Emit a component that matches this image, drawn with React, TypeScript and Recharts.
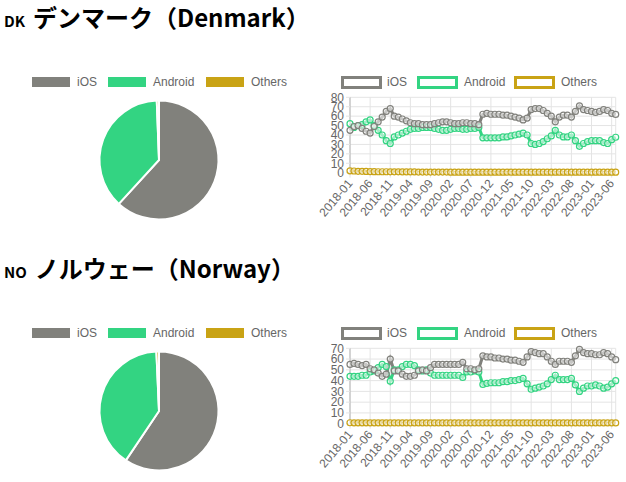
import React from "react";
import { LineChart, Line, XAxis, YAxis, CartesianGrid, PieChart, Pie, Cell } from "recharts";

const months = [
  "2018-01","2018-02","2018-03","2018-04","2018-05","2018-06","2018-07","2018-08","2018-09","2018-10","2018-11","2018-12",
  "2019-01","2019-02","2019-03","2019-04","2019-05","2019-06","2019-07","2019-08","2019-09","2019-10","2019-11","2019-12",
  "2020-01","2020-02","2020-03","2020-04","2020-05","2020-06","2020-07","2020-08","2020-09","2020-10","2020-11","2020-12",
  "2021-01","2021-02","2021-03","2021-04","2021-05","2021-06","2021-07","2021-08","2021-09","2021-10","2021-11","2021-12",
  "2022-01","2022-02","2022-03","2022-04","2022-05","2022-06","2022-07","2022-08","2022-09","2022-10","2022-11","2022-12",
  "2023-01","2023-02","2023-03","2023-04","2023-05","2023-06","2023-07",
];

const xTicks = ["2018-01","2018-06","2018-11","2019-04","2019-09","2020-02","2020-07","2020-12","2021-05","2021-10","2022-03","2022-08","2023-01","2023-06"];

const seriesNames = ["iOS", "Android", "Others"];
const seriesColors = ["#81817c", "#33d482", "#c9a315"];

// Denmark
const dkIOS = [
  45, 49, 50, 47, 44, 42, 49, 54, 59, 65, 68, 60,
  59, 57, 55, 53, 52, 52, 51, 51, 51, 52, 53, 54,
  54, 53, 52, 52, 53, 53, 52, 52, 51, 62, 63, 62,
  62, 62, 61, 61, 60, 59, 58, 56, 58, 67, 68, 68,
  66, 63, 60, 54, 59, 61, 61, 59, 65, 71, 67, 66,
  65, 64, 65, 67, 66, 63, 61.8,
];
const dkAndroid = [
  52, 48, 50, 51, 54, 56, 50, 45, 40, 34, 31, 38,
  40, 42, 44, 46, 47, 47, 48, 48, 48, 47, 46, 45,
  45, 46, 47, 47, 46, 46, 47, 47, 48, 37, 37, 37,
  37, 37, 38, 38, 39, 40, 41, 42, 40, 31, 30, 31,
  33, 36, 39, 45, 40, 38, 38, 40, 34, 28, 31, 33,
  34, 34, 34, 32, 31, 35, 37.6,
];
const dkOthers = [
  2, 1.8, 1.5, 1.5, 1.3, 1.2, 1.1, 1, 1, 1, 0.9, 0.9,
  0.9, 0.8, 0.8, 0.8, 0.8, 0.7, 0.7, 0.7, 0.7, 0.7, 0.7, 0.7,
  0.7, 0.6, 0.6, 0.6, 0.6, 0.6, 0.6, 0.6, 0.6, 0.6, 0.6, 0.6,
  0.6, 0.6, 0.6, 0.6, 0.6, 0.6, 0.6, 0.6, 0.6, 0.6, 0.6, 0.6,
  0.6, 0.6, 0.6, 0.6, 0.6, 0.6, 0.6, 0.6, 0.6, 0.6, 0.6, 0.6,
  0.6, 0.6, 0.6, 0.6, 0.6, 0.6, 0.6,
];
const dkShare = [61.8, 37.6, 0.6];
const dkYTicks = [0, 10, 20, 30, 40, 50, 60, 70, 80];

// Norway
const noIOS = [
  55, 56, 55, 54, 55, 51, 50, 47, 44, 46, 60, 49,
  49, 46, 44, 44, 45, 49, 50, 49, 52, 55, 55, 55,
  55, 55, 55, 55, 57, 51, 51, 50, 51, 63, 62, 62,
  61, 61, 60, 60, 59, 59, 58, 57, 62, 67, 66, 65,
  65, 62, 58, 55, 58, 58, 58, 57, 63, 69, 66, 65,
  65, 64, 64, 66, 65, 62, 59.4,
];
const noAndroid = [
  44, 44, 44, 45, 45, 48, 49, 52, 55, 53, 39.5, 50,
  50, 53, 55, 55, 54, 50, 49, 50, 47, 45, 45, 45,
  45, 45, 45, 45, 43, 48, 48, 49, 48, 36.5, 37.5, 38,
  38, 38, 39, 39, 40, 40, 41, 42, 37, 32, 33, 34,
  35, 37, 41, 45, 41, 41, 41, 42, 36, 30, 33, 35,
  35, 36, 35, 33, 34, 37, 39.9,
];
const noOthers = [
  0.9, 0.8, 0.8, 0.8, 0.8, 0.8, 0.8, 0.8, 0.8, 0.8, 0.7, 0.7,
  0.7, 0.7, 0.7, 0.7, 0.7, 0.7, 0.7, 0.7, 0.7, 0.7, 0.7, 0.7,
  0.7, 0.7, 0.7, 0.7, 0.7, 0.7, 0.7, 0.7, 0.7, 0.7, 0.7, 0.7,
  0.7, 0.7, 0.7, 0.7, 0.7, 0.7, 0.7, 0.7, 0.7, 0.7, 0.7, 0.7,
  0.7, 0.7, 0.7, 0.7, 0.7, 0.7, 0.7, 0.7, 0.7, 0.7, 0.7, 0.7,
  0.7, 0.7, 0.7, 0.7, 0.7, 0.7, 0.7,
];
const noShare = [59.4, 39.9, 0.7];
const noYTicks = [0, 10, 20, 30, 40, 50, 60, 70];

const FONT = "'Liberation Sans', Arial, sans-serif";
const TEXT = "#666";

function buildRows(ios: number[], android: number[], others: number[]) {
  return months.map((m, i) => ({ month: m, iOS: ios[i], Android: android[i], Others: others[i] }));
}

function XTick(props: any) {
  const { x, y, payload } = props;
  return (
    <g transform={`translate(${x},${y})`}>
      <text x={-1} y={0} dy={5} textAnchor="end" transform="rotate(-50)" fontSize={12} fill={TEXT} fontFamily={FONT}>
        {payload.value}
      </text>
    </g>
  );
}

function Section(props: {
  top: number;
  code: string;
  name: string;
  ios: number[];
  android: number[];
  others: number[];
  share: number[];
  yTicks: number[];
}) {
  const { top, code, name, ios, android, others, share, yTicks } = props;
  const rows = buildRows(ios, android, others);
  const pieRows = seriesNames.map((n, i) => ({ name: n, value: share[i] }));
  const yMax = yTicks[yTicks.length - 1];

  const pieLegend = [
    { box: 32, text: 77 },
    { box: 108, text: 153 },
    { box: 206, text: 251 },
  ];
  const lineLegend = [
    { box: 341, text: 387 },
    { box: 416.5, text: 464 },
    { box: 514, text: 561 },
  ];

  return (
    <>
      <div
        style={{
          position: "absolute",
          left: 4,
          top: top + 2,
          height: 30,
          lineHeight: "30px",
          whiteSpace: "nowrap",
          fontFamily: "'Noto Sans CJK JP', 'Noto Sans', sans-serif",
          fontWeight: 700,
          color: "#000",
        }}
      >
        <span style={{ fontSize: 15, marginRight: 8 }}>{code}</span>
        <span style={{ fontSize: 24 }}>{name}</span>
      </div>

      {seriesNames.map((n, i) => (
        <React.Fragment key={"pl" + n}>
          <div
            style={{
              position: "absolute",
              left: pieLegend[i].box,
              top: top + 77,
              width: 38,
              height: 10,
              background: seriesColors[i],
            }}
          />
          <div
            style={{
              position: "absolute",
              left: pieLegend[i].text,
              top: top + 74,
              height: 16,
              lineHeight: "16px",
              fontSize: 12,
              fontFamily: FONT,
              color: TEXT,
            }}
          >
            {n}
          </div>
        </React.Fragment>
      ))}

      {seriesNames.map((n, i) => (
        <React.Fragment key={"ll" + n}>
          <div
            style={{
              position: "absolute",
              left: lineLegend[i].box,
              top: top + 75.5,
              width: 41,
              height: 13,
              boxSizing: "border-box",
              border: `3px solid ${seriesColors[i]}`,
              background: "#fff",
            }}
          />
          <div
            style={{
              position: "absolute",
              left: lineLegend[i].text,
              top: top + 74,
              height: 16,
              lineHeight: "16px",
              fontSize: 12,
              fontFamily: FONT,
              color: TEXT,
            }}
          >
            {n}
          </div>
        </React.Fragment>
      ))}

      <div style={{ position: "absolute", left: 0, top: top, width: 320, height: 230 }}>
        <PieChart width={320} height={230} margin={{ top: 0, right: 0, bottom: 0, left: 0 }}>
          <Pie
            data={pieRows}
            dataKey="value"
            nameKey="name"
            cx={159}
            cy={160}
            outerRadius={59.5}
            startAngle={90}
            endAngle={-270}
            stroke="#fff"
            strokeWidth={2}
            isAnimationActive={false}
          >
            {pieRows.map((r, i) => (
              <Cell key={r.name} fill={seriesColors[i]} />
            ))}
          </Pie>
        </PieChart>
      </div>

      <div style={{ position: "absolute", left: 300, top: top + 70, width: 326, height: 160 }}>
        <LineChart width={326} height={160} data={rows} margin={{ top: 27.3, right: 10.3, bottom: 2, left: 20 }}>
          <CartesianGrid stroke="#e4e4e4" strokeWidth={1} />
          <XAxis
            dataKey="month"
            ticks={xTicks}
            interval={0}
            height={55.3}
            tickSize={5}
            tickMargin={2}
            axisLine={{ stroke: "#e4e4e4" }}
            tickLine={{ stroke: "#e4e4e4" }}
            tick={<XTick />}
          />
          <YAxis
            type="number"
            domain={[0, yMax]}
            ticks={yTicks}
            interval={0}
            width={30}
            tickSize={4}
            tickMargin={2}
            axisLine={{ stroke: "#b5b5b5" }}
            tickLine={{ stroke: "#e4e4e4" }}
            tick={{ fontSize: 12, fill: TEXT, fontFamily: FONT }}
          />
          {[2, 1, 0].map((i) => (
            <Line
              key={seriesNames[i]}
              type="linear"
              dataKey={seriesNames[i]}
              stroke={seriesColors[i]}
              strokeWidth={3}
              dot={{ r: 3, stroke: seriesColors[i], strokeWidth: 1.2, fill: "#fff", fillOpacity: 0.55 }}
              isAnimationActive={false}
            />
          ))}
        </LineChart>
      </div>
    </>
  );
}

export default function App() {
  return (
    <div style={{ position: "absolute", left: 0, top: 0, width: 626, height: 482, background: "#fff", overflow: "hidden" }}>
      <Section top={0} code="DK" name="デンマーク（Denmark）" ios={dkIOS} android={dkAndroid} others={dkOthers} share={dkShare} yTicks={dkYTicks} />
      <Section top={251} code="NO" name="ノルウェー（Norway）" ios={noIOS} android={noAndroid} others={noOthers} share={noShare} yTicks={noYTicks} />
    </div>
  );
}
